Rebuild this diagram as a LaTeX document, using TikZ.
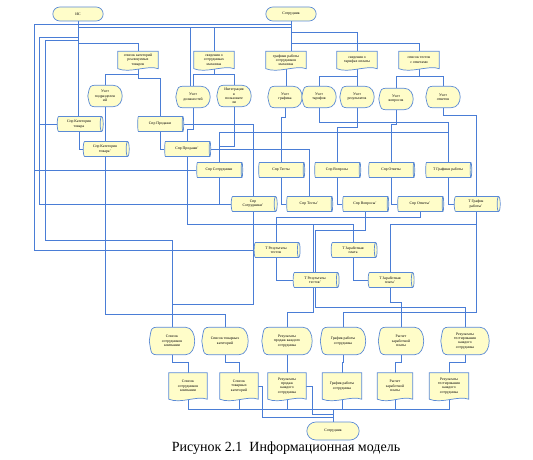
\documentclass[tikz,border=0pt]{standalone}
\usepackage{fontspec}
\setmainfont{Liberation Serif}
\usetikzlibrary{shapes.geometric, shapes.misc, positioning}

\definecolor{shapefill}{HTML}{FFFDC9}
\definecolor{shapeedge}{HTML}{5A8AD6}
\definecolor{linkblue}{HTML}{4A7DD6}

\pgfdeclarelayer{links}
\pgfdeclarelayer{shapes}
\pgfsetlayers{links,shapes,main}

\newcommand{\tinytext}{\fontsize{3.8}{4.3}\selectfont}

% document shape: box with a wavy bottom edge
\newcommand{\docnode}[4][]{%
  \node[docbox, #1] (#2) at (#3) {#4};
  \begin{pgfonlayer}{shapes}
    \filldraw[outline] (#2.south west) -- (#2.north west) -- (#2.north east) -- (#2.south east)
      .. controls ([xshift=-10pt,yshift=4pt]#2.south east) and ([xshift=12pt,yshift=-5pt]#2.south west) .. (#2.south west) -- cycle;
  \end{pgfonlayer}}

% display shape: pointed left side, round right side
\newcommand{\dispnode}[4][]{%
  \node[dispbox, #1] (#2) at (#3) {#4};
  \begin{pgfonlayer}{shapes}
    \filldraw[outline] (#2.west) .. controls ([xshift=2pt]#2.north west) .. ([xshift=9pt]#2.north west)
      -- ([xshift=-9pt]#2.north east)
      .. controls ([xshift=3pt]#2.north east) and ([xshift=3pt]#2.south east) .. ([xshift=-9pt]#2.south east)
      -- ([xshift=9pt]#2.south west)
      .. controls ([xshift=2pt]#2.south west) .. (#2.west) -- cycle;
  \end{pgfonlayer}}

\begin{document}
\begin{tikzpicture}[
    x=1pt, y=-1pt,
    outline/.style={draw=shapeedge, line width=0.7pt, fill=shapefill},
    termbox/.style={rounded rectangle, draw=shapeedge, line width=0.7pt, fill=shapefill, minimum width=57pt, minimum height=14pt, font=\tinytext},
    docbox/.style={rectangle, minimum width=40pt, minimum height=17pt, inner sep=0.5pt, align=center, font=\tinytext},
    dispbox/.style={rectangle, minimum width=34pt, minimum height=21pt, inner sep=0.5pt, align=center, font=\tinytext},
    storebox/.style={cylinder, shape aspect=0.35, draw=shapeedge, line width=0.7pt, fill=shapefill, minimum height=46pt, minimum width=15pt, inner sep=0.5pt, align=center, font=\tinytext},
    line/.style={draw=linkblue, line width=0.8pt},
    caption/.style={font=\fontsize{14}{16}\selectfont}
]
\useasboundingbox (0,0) rectangle (533,460);

% Terminals
\node[termbox] (is) at (78,14) {ИС};
\node[termbox] (sotr) at (291,14) {Сотрудник};
\node[termbox, minimum width=59pt, minimum height=18pt] (sotrout) at (333,431) {Сотрудник};

% Input documents
\docnode{d1}{138,60}{список категорий\\реализуемых\\товаров}
\docnode{d2}{214,60}{сведения о\\сотрудниках\\магазина}
\docnode{d3}{286,60}{графики работы\\сотрудников\\магазина}
\docnode{d4}{357,60}{сведения о\\тарифах оплаты}
\docnode{d5}{419,60}{список тестов\\с ответами}

% Processing
\dispnode{p1}{105,96}{Учет\\подразделен\\ий}
\dispnode{p2}{193,97}{Учет\\должностей}
\dispnode{p3}{234,96}{Интеграция\\в\\пользовате\\ли}
\dispnode{p4}{285,97}{Учет\\графика}
\dispnode{p5}{319,97}{Учет\\тарифов}
\dispnode{p6}{357,97}{Учет\\результатов}
\dispnode{p7}{396,99}{Учет\\вопросов}
\dispnode{p8}{443,97}{Учет\\ответов}

% Reference tables
\node[storebox] (c1) at (79,124) {Спр Категория\\товара};
\node[storebox] (c2) at (160,124) {Спр Продажи};
\node[storebox] (c3) at (105,149) {Спр Категория\\товара'};
\node[storebox] (c4) at (187,149) {Спр Продажи'};
\node[storebox] (c5) at (219,170) {Спр Сотрудники};
\node[storebox] (c6) at (281,170) {Спр Тесты};
\node[storebox] (c7) at (337,170) {Спр Вопросы};
\node[storebox] (c8) at (391,170) {Спр Ответы};
\node[storebox] (c9) at (448,170) {Т Графики работы};
\node[storebox] (c10) at (253,204) {Спр\\Сотрудники'};
\node[storebox] (c11) at (309,204) {Спр Тесты'};
\node[storebox] (c12) at (365,204) {Спр Вопросы'};
\node[storebox] (c13) at (420,204) {Спр Ответы'};
\node[storebox] (c14) at (476,204) {Т График\\работы'};
\node[storebox] (c15) at (276,250) {Т Результаты\\тестов};
\node[storebox] (c16) at (353,250) {Т Заработная\\плата};
\node[storebox] (c17) at (315,280) {Т Результаты\\тестов'};
\node[storebox] (c18) at (390,280) {Т Заработная\\плата'};

% Reports
\dispnode[minimum width=45pt, minimum height=27pt]{o1}{172,341}{Список\\сотрудников\\компании}
\dispnode[minimum width=46pt, minimum height=27pt]{o2}{225,341}{Список товарных\\категорий}
\dispnode[minimum width=50pt, minimum height=27pt]{o3}{287,341}{Результаты\\продаж каждого\\сотрудника}
\dispnode[minimum width=45pt, minimum height=27pt]{o4}{343,341}{График работы\\сотрудника}
\dispnode[minimum width=45pt, minimum height=27pt]{o5}{401,341}{Расчет\\заработной\\платы}
\dispnode[minimum width=48pt, minimum height=27pt]{o6}{465,341}{Результаты\\тестирования\\каждого\\сотрудника}

% Output documents
\docnode[minimum width=38pt, minimum height=26pt]{b1}{188,386}{Список\\сотрудников\\компании}
\docnode[minimum width=38pt, minimum height=26pt]{b2}{239,386}{Список\\товарных\\категорий}
\docnode[minimum width=38pt, minimum height=26pt]{b3}{287,386}{Результаты\\продаж\\каждого\\сотрудника}
\docnode[minimum width=39pt, minimum height=26pt]{b4}{342,386}{График работы\\сотрудника}
\docnode[minimum width=35pt, minimum height=26pt]{b5}{395,386}{Расчет\\заработной\\платы}
\docnode[minimum width=39pt, minimum height=26pt]{b6}{449,386}{Результаты\\тестирования\\каждого\\сотрудника}

\node[caption] (cap) at (286,448) {Рисунок 2.1\ \ Информационная модель};

\begin{pgfonlayer}{links}
% Terminals - documents
\draw[line] (sotr.south) -- (sotr.south |- d3.north);
\draw[line] (sotr.south) -- ++(0,11) -| (d4.north);
\draw[line] (sotr.south) -- ++(0,22) -| (d5.north);
\draw[line] (sotr.south) -- ++(0,6) -| ([xshift=-3pt]p2.north);
\draw[line] (is.south) -- ++(0,6) -| (d2.north);
\draw[line] (is.south) -- ++(0,22) -| (d1.north);

% Left side
\draw[line] (is.south) -- (is.south |- c1.north);
\draw[line] (is.south) -- ++(0,16) -- ++(-39,0) |- (c1.west);
\draw[line] (is.south) -- ++(0,16) -- ++(-39,0) |- (c10.west);
\draw[line] (is.south) -- ++(0,19) -- ++(-33,0) -- ++(0,200) -| (o1.north);
\draw[line] (sotr.south) -- ++(0,3) -- ++(-257,0) |- (c15.west);
\draw[line] (sotr.south) -- ++(0,3) -- ++(-257,0) |- (c5.west);
\draw[line] (c3.south) -- ++(0,158) -| (o2.north);

% Documents - processing
\draw[line] (d1.south) -- ++(0,6) -| (p1.north);
\draw[line] (d1.south) -- ++(0,10) -| (c2.north);
\draw[line] (d2.south) -- ++(0,6) -| (p3.north);
\draw[line] (d2.south) -- ++(0,6) -| (p2.north);
\draw[line] (d3.south) -- (d3.south |- p4.north);
\draw[line] (d4.south) -- ++(0,8) -| (p5.north);
\draw[line] (d4.south) -- (d4.south |- p6.north);
\draw[line] (d5.south) -- ++(0,8) -| (p7.north);
\draw[line] (d5.south) -- ++(0,8) -| (p8.north);

% Processing - tables
\draw[line] (p1.south) -- (p1.south |- c3.north);
\draw[line] (p2.south) -- ++(0,22) -| (c4.north);
\draw[line] (p3.south) -- ++(0,40) -| (c5.north);
\draw[line] (p4.south) -- ++(0,10) -| (c6.north);
\draw[line] (p5.south) -- ++(0,15) -| (c9.north);
\draw[line] (p6.south) -- ++(0,20) -| (c7.north);
\draw[line] (p7.south) -- ++(0,15) -| (c8.north);
\draw[line] (p8.south) -- ++(0,8) -| (c14.north);

% Tables - copies
\draw[line] (c1.south) |- (c3.west);
\draw[line] (c2.south) |- (c4.west);
\draw[line] (c5.south) |- (c10.west);
\draw[line] (c6.south) |- (c11.west);
\draw[line] (c7.south) |- (c12.west);
\draw[line] (c8.south) |- (c13.west);
\draw[line] (c9.south) |- (c14.west);
\draw[line] (c15.south) |- (c17.west);
\draw[line] (c16.south) |- (c18.west);

% Cross links
\draw[line] (c5.north) -- ++(0,-30) -| (c9.north);
\draw[line] (c2.east) -| (c10.north);
\draw[line] (c4.east) -| (c11.north);
\draw[line] (c13.south) -- ++(0,6) -| (c15.north);
\draw[line] (c12.south) -- ++(0,19) -| (c17.north);
\draw[line] (c10.south) -- ++(0,13) -| (c16.north);
\draw[line] (c14.south) -- ++(0,13) -| (c18.north);

% Tables - reports
\draw[line] (c10.south) -- ++(0,93) -| (o1.north);
\draw[line] (c4.south) -- ++(0,68) -- ++(126,0) -- ++(0,88) -| (o3.north);
\draw[line] (c14.south) -- ++(0,101) -| (o4.north);
\draw[line] (c18.south) -- ++(0,15) -| (o5.north);
\draw[line] (c17.south) -- ++(0,20) -| (o6.north);

% Reports - documents
\draw[line] (o1.south) -- ++(0,8) -| (b1.north);
\draw[line] (o2.south) -- ++(0,8) -| (b2.north);
\draw[line] (o3.south) -- (b3.north);
\draw[line] (o4.south) -- ++(0,8) -| (b4.north);
\draw[line] (o5.south) -- ++(0,8) -| (b5.north);
\draw[line] (o6.south) -- ++(0,8) -| (b6.north);

% Documents - employee
\draw[line] (b1.south) -- ++(0,10) -| (sotrout.north);
\draw[line] (b2.south) -- ++(0,10) -| (sotrout.north);
\draw[line] (b3.south) -- ++(0,10) -| (sotrout.north);
\draw[line] (b4.south) -- ++(0,10) -| (sotrout.north);
\draw[line] (b5.south) -- ++(0,10) -| (sotrout.north);
\draw[line] (b6.south) -- ++(0,10) -| (sotrout.north);
\draw[line] (b2.east) -- ++(4,0) -- ++(0,31) -| (sotrout.north);
\draw[line] (b3.east) -- ++(6,0) -- ++(0,28) -| (sotrout.north);
\end{pgfonlayer}

\end{tikzpicture}
\end{document}
